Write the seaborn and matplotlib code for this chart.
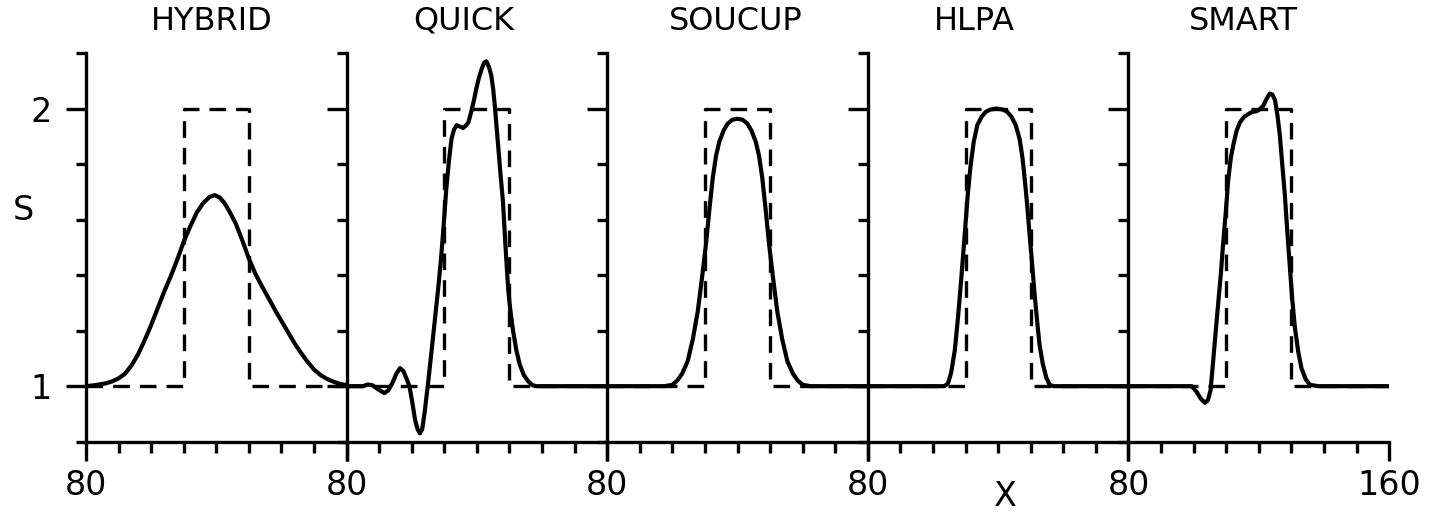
import matplotlib
matplotlib.use("Agg")
import matplotlib.pyplot as plt
import numpy as np
import pandas as pd
import seaborn as sns
from matplotlib.ticker import FixedLocator

# ---------------- data ----------------
methods = ["HYBRID", "QUICK", "SOUCUP", "HLPA", "SMART"]
title_x = [118.5, 115.9, 119.5, 112.6, 115.4]

exact_x = [80, 110, 110, 130, 130, 160]
exact_s = [1, 1, 2, 2, 1, 1]

hybrid_x = [80, 83, 86, 88, 90, 92, 94, 96, 98, 100, 102, 104, 106, 108, 110, 112,
            114, 116, 118, 119.5, 121, 122.5, 124, 126, 128, 130, 132, 134, 136,
            138, 140, 142, 144, 146, 148, 150, 152, 154, 156, 158, 160]
hybrid_s = [1.0, 1.004, 1.010, 1.017, 1.028, 1.045, 1.075, 1.115, 1.165, 1.22,
            1.28, 1.34, 1.395, 1.455, 1.52, 1.575, 1.625, 1.66, 1.682, 1.688,
            1.68, 1.66, 1.63, 1.585, 1.525, 1.46, 1.405, 1.36, 1.318, 1.275,
            1.235, 1.195, 1.155, 1.12, 1.088, 1.06, 1.04, 1.026, 1.016, 1.008,
            1.004]

quick_x = [80, 85, 86.5, 88, 89.5, 91.6, 92.8, 94, 95.3, 96.4, 97.4, 98.3, 99.3,
           100.2, 101, 101.8, 102.5, 103.2, 103.9, 104.5, 105.2, 106.2, 107.2,
           108.1, 109, 109.8, 110.6, 111.4, 112.2, 113, 113.8, 114.8, 115.8,
           116.7, 117.4, 118.3, 119.1, 119.8, 120.6, 121.4, 122.2, 122.9, 123.7,
           124.4, 125, 125.5, 126, 126.5, 127.2, 128, 128.8, 129.6, 130.3, 131.1,
           132.1, 133.1, 134.4, 135.7, 137, 138.2, 160]
quick_s = [1.0, 1.0, 1.006, 1.003, 0.99, 0.975, 0.985, 1.01, 1.045, 1.065, 1.055,
           1.03, 1.0, 0.94, 0.88, 0.845, 0.83, 0.845, 0.9, 0.96, 1.03, 1.14, 1.25,
           1.35, 1.46, 1.58, 1.71, 1.81, 1.89, 1.925, 1.94, 1.935, 1.93, 1.94,
           1.95, 1.99, 2.03, 2.07, 2.11, 2.14, 2.165, 2.17, 2.15, 2.12, 2.07, 2.01,
           1.94, 1.87, 1.77, 1.665, 1.50, 1.35, 1.27, 1.20, 1.13, 1.08, 1.04,
           1.018, 1.004, 1.0, 1.0]

soucup_x = [80, 97.6, 100, 101.5, 103, 104.7, 106.3, 107.8, 109.1, 110.3, 111.4,
            112.4, 113.4, 114.4, 115.7, 117, 118.5, 120, 121.5, 123, 124.3, 125.6,
            126.6, 127.6, 128.6, 129.7, 130.9, 132.2, 133.7, 135.3, 137, 138.5,
            140, 142.4, 160]
soucup_s = [1.0, 1.0, 1.005, 1.02, 1.045, 1.09, 1.17, 1.27, 1.39, 1.51, 1.64,
            1.75, 1.83, 1.88, 1.92, 1.946, 1.96, 1.963, 1.96, 1.946, 1.92, 1.88,
            1.83, 1.75, 1.64, 1.51, 1.39, 1.27, 1.17, 1.09, 1.045, 1.02, 1.005,
            1.0, 1.0]

hlpa_x = [80, 103.5, 104.6, 105.6, 106.7, 107.7, 108.7, 109.7, 110.6, 111.5, 112.5,
          113.6, 114.9, 116.2, 117.5, 119.5, 121.5, 122.8, 124.1, 125.4, 126.6,
          127.5, 128.3, 129, 129.7, 130.5, 131.2, 132, 132.7, 133.7, 134.8, 135.8,
          137, 160]
hlpa_s = [1.0, 1.0, 1.01, 1.05, 1.13, 1.25, 1.39, 1.54, 1.68, 1.79, 1.88, 1.94,
          1.97, 1.988, 1.996, 2.0, 1.996, 1.988, 1.97, 1.94, 1.89, 1.82, 1.73,
          1.64, 1.54, 1.43, 1.33, 1.23, 1.15, 1.08, 1.03, 1.005, 1.0, 1.0]

smart_x = [80, 99.4, 100.9, 102.2, 103.5, 104.4, 105.2, 106, 106.8, 107.6, 108.4,
           109.1, 109.9, 110.6, 111.4, 112.2, 113.2, 114.2, 115.5, 116.8, 118,
           119.3, 120.4, 121.4, 122.4, 123.4, 124.2, 125, 125.8, 126.5, 127.2, 128,
           128.8, 129.6, 130.3, 131.1, 132.1, 133.1, 134.4, 135.7, 138.2, 160]
smart_s = [1.0, 1.0, 0.98, 0.955, 0.94, 0.95, 0.985, 1.09, 1.2, 1.305, 1.41, 1.52,
           1.63, 1.74, 1.82, 1.87, 1.92, 1.95, 1.97, 1.98, 1.988, 1.99, 1.998,
           2.01, 2.035, 2.054, 2.05, 2.03, 1.97, 1.90, 1.80, 1.69, 1.55, 1.42,
           1.31, 1.21, 1.125, 1.065, 1.025, 1.005, 1.0, 1.0]

series_x = [hybrid_x, quick_x, soucup_x, hlpa_x, smart_x]
series_s = [hybrid_s, quick_s, soucup_s, hlpa_s, smart_s]

x_major = [80, 160]
x_minor = [90, 100, 110, 120, 130, 140, 150]
y_major = [1, 2]
y_minor = [0.8, 1.2, 1.4, 1.6, 1.8, 2.2]

frames = []
for m, xs, ss in zip(methods, series_x, series_s):
    frames.append(pd.DataFrame({"method": m, "x": xs, "S": ss}))
df = pd.concat(frames, ignore_index=True)
exact_df = pd.DataFrame({"x": exact_x, "S": exact_s})

# ---------------- style ----------------
sns.set_style("ticks")
plt.rcParams["font.family"] = ["DejaVu Sans"]
plt.rcParams["text.color"] = "black"
plt.rcParams["axes.linewidth"] = 2.4

fig = plt.figure(figsize=(14.35, 5.12), dpi=100)
axes = fig.subplots(1, 5, sharey=True)
fig.subplots_adjust(left=0.0599, right=0.968, bottom=0.1373, top=0.8965, wspace=0)

SW = 2.4  # spines / ticks
for i, (ax, m) in enumerate(zip(axes, methods)):
    sns.lineplot(data=exact_df, x="x", y="S", ax=ax, color="black", lw=2.4,
                 linestyle=(0, (5, 3)), sort=False, estimator=None)
    sns.lineplot(data=df[df["method"] == m], x="x", y="S", ax=ax, color="black",
                 lw=3.0, sort=False, estimator=None)
    ax.set_xlim(80, 160)
    ax.set_ylim(0.8, 2.2)
    ax.set_xlabel("")
    ax.set_ylabel("")
    sns.despine(ax=ax)
    for sp in ("left", "bottom"):
        ax.spines[sp].set_linewidth(SW)
        ax.spines[sp].set_color("black")

    ax.set_xticks(x_major)
    ax.set_xticklabels(["80", "160"] if i == 4 else ["80", ""])
    ax.xaxis.set_minor_locator(FixedLocator(x_minor))
    ax.set_yticks(y_major)
    ax.set_yticklabels(["1", "2"])
    ax.yaxis.set_minor_locator(FixedLocator(y_minor))

    ax.tick_params(axis="x", which="major", direction="out", length=14, width=SW,
                   pad=6, labelsize=24, color="black", labelcolor="black")
    ax.tick_params(axis="x", which="minor", direction="out", length=8, width=SW,
                   color="black")
    ax.tick_params(axis="y", which="major", direction="out", length=14.4, width=SW,
                   pad=10, labelsize=24, color="black", labelcolor="black")
    ax.tick_params(axis="y", which="minor", direction="out", length=7.2, width=SW,
                   color="black")
    if i > 0:
        ax.tick_params(axis="y", labelleft=False)

    ax.text(title_x[i], 1.082, m, transform=ax.get_xaxis_transform(),
            ha="center", va="center", fontsize=23, color="black")

fig.text(23 / 1435, 1 - 210 / 512, "S", ha="center", va="center", fontsize=24,
         color="black")
fig.text(1005 / 1435, 1 - 497 / 512, "X", ha="center", va="center", fontsize=24,
         color="black")

fig.savefig("out.png", dpi=100)
